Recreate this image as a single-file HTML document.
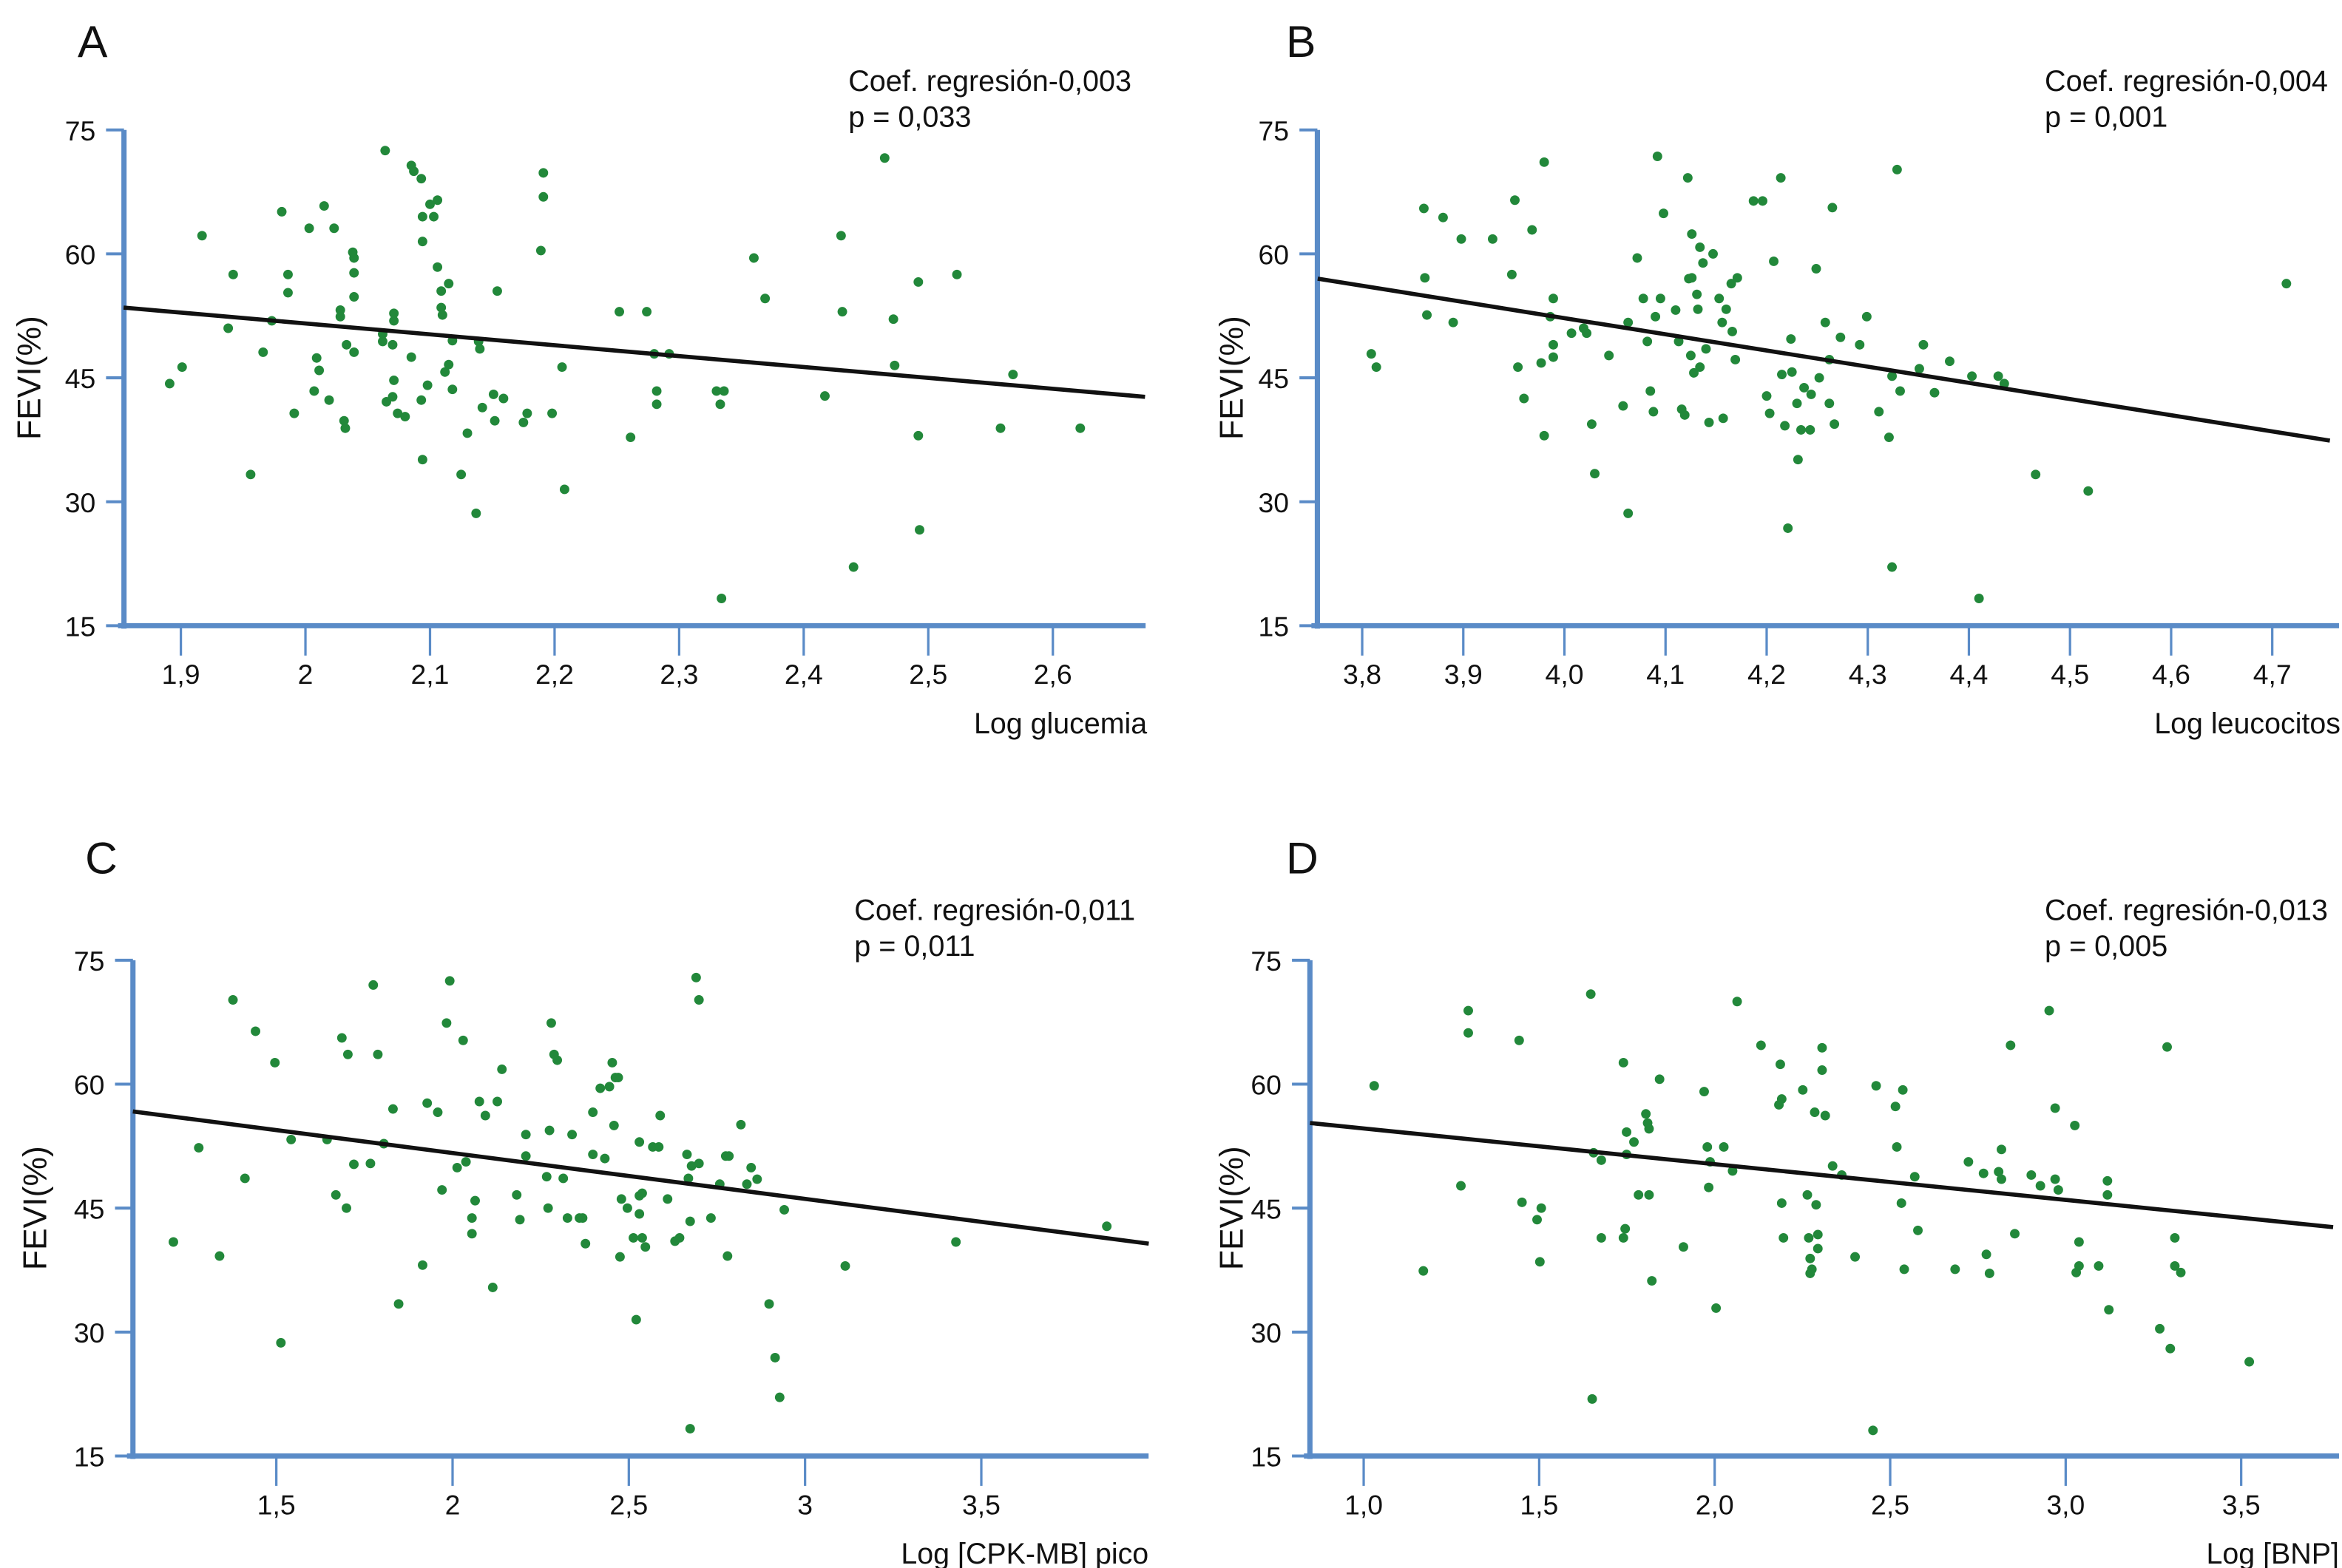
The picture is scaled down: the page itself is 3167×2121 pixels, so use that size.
<!DOCTYPE html>
<html><head><meta charset="utf-8"><style>
html,body{margin:0;padding:0;background:#fff}
svg{display:block}
text{font-family:"Liberation Sans",Arial,sans-serif;fill:#111}
</style></head><body>
<svg id="fig" width="3167" height="2121" viewBox="0 0 1568 1050" preserveAspectRatio="none" xmlns="http://www.w3.org/2000/svg"></svg>
<script>
// Panel A: Log glucemia
const aX=[1.891,1.901,1.917,1.938,1.942,1.956,1.966,1.973,1.981,1.986,1.986,1.991,2.003,2.007,2.009,2.011,2.015,2.019,2.023,2.028,2.028,2.031,2.032,2.033,2.038,2.039,2.039,2.039,2.039,2.062,2.062,2.064,2.065,2.070,2.070,2.071,2.071,2.071,2.074,2.080,2.085,2.085,2.087,2.093,2.093,2.094,2.094,2.094,2.098,2.100,2.103,2.106,2.106,2.109,2.109,2.110,2.112,2.115,2.115,2.118,2.118,2.125,2.130,2.137,2.139,2.140,2.142,2.151,2.152,2.154,2.159,2.175,2.178,2.189,2.191,2.191,2.198,2.206,2.208,2.252,2.261,2.274,2.280,2.282,2.282,2.292,2.330,2.333,2.334,2.336,2.360,2.369,2.417,2.430,2.431,2.440,2.465,2.472,2.473,2.492,2.492,2.493,2.523,2.568,2.558,2.622];
const aY=[44.3,46.3,62.2,51.0,57.5,33.3,48.1,51.9,65.1,57.5,55.3,40.7,63.1,43.4,47.4,45.9,65.8,42.3,63.1,52.4,53.2,39.8,38.9,49.0,60.2,59.5,57.7,54.8,48.1,50.3,49.4,72.5,42.1,42.7,49.0,51.9,52.8,44.7,40.7,40.3,47.5,70.7,70.0,69.1,42.3,35.1,64.5,61.5,44.1,66.0,64.5,66.5,58.4,55.5,53.5,52.6,45.7,56.4,46.6,49.5,43.6,33.3,38.3,28.6,49.4,48.5,41.4,43.0,39.8,55.5,42.5,39.6,40.7,60.4,69.8,66.9,40.7,46.3,31.5,53.0,37.8,53.0,47.9,43.4,41.8,47.9,43.4,41.8,18.3,43.4,59.5,54.6,42.8,62.2,53.0,22.1,71.6,52.1,46.5,56.6,38.0,26.6,57.5,45.4,38.9,38.9];
const aLineX=[1.854,2.674];
const aLineY=[53.5,42.7];
const aTicks=[1.9,2.0,2.1,2.2,2.3,2.4,2.5,2.6];
const aTickLabels=["1,9","2","2,1","2,2","2,3","2,4","2,5","2,6"];
// Panel B: Log leucocitos
const bX=[3.809,3.814,3.861,3.862,3.864,3.880,3.890,3.898,3.929,3.948,3.951,3.954,3.960,3.968,3.977,3.980,3.980,3.986,3.989,3.989,3.989,4.007,4.019,4.022,4.027,4.030,4.044,4.058,4.063,4.063,4.072,4.078,4.082,4.085,4.088,4.090,4.092,4.095,4.098,4.110,4.113,4.116,4.119,4.122,4.123,4.125,4.126,4.126,4.128,4.131,4.132,4.134,4.134,4.137,4.140,4.143,4.147,4.153,4.156,4.157,4.160,4.165,4.166,4.169,4.171,4.187,4.196,4.200,4.203,4.207,4.214,4.215,4.218,4.221,4.224,4.225,4.230,4.231,4.234,4.237,4.243,4.244,4.249,4.252,4.258,4.262,4.262,4.265,4.267,4.273,4.292,4.299,4.311,4.321,4.324,4.324,4.329,4.332,4.351,4.355,4.366,4.381,4.403,4.410,4.429,4.435,4.466,4.518,4.714];
const bY=[47.9,46.3,65.5,57.1,52.6,64.4,51.7,61.8,61.8,57.5,66.5,46.3,42.5,62.9,46.8,38.0,71.1,52.4,54.6,49.0,47.5,50.4,51.0,50.4,39.4,33.4,47.7,41.6,51.7,28.6,59.5,54.6,49.4,43.4,40.9,52.4,71.8,54.6,64.9,53.2,49.4,41.2,40.5,69.2,57.0,47.7,62.4,57.1,45.6,55.1,53.3,60.8,46.3,58.9,48.5,39.6,60.0,54.6,51.7,40.1,53.3,56.4,50.6,47.2,57.1,66.4,66.4,42.8,40.7,59.1,69.2,45.4,39.2,26.8,49.7,45.7,41.9,35.1,38.7,43.8,38.7,43.0,58.2,45.0,51.7,47.2,41.9,65.6,39.4,49.9,49.0,52.4,40.9,37.8,45.2,22.1,70.2,43.4,46.1,49.0,43.2,47.0,45.2,18.3,45.2,44.3,33.3,31.3,56.4];
const bLineX=[3.756,4.757];
const bLineY=[57.0,37.4];
const bTicks=[3.8,3.9,4.0,4.1,4.2,4.3,4.4,4.5,4.6,4.7];
const bTickLabels=["3,8","3,9","4,0","4,1","4,2","4,3","4,4","4,5","4,6","4,7"];
// Panel C: Log [CPK-MB] pico
const cX=[1.208,1.280,1.339,1.377,1.411,1.441,1.496,1.513,1.542,1.644,1.669,1.686,1.703,1.699,1.720,1.767,1.775,1.788,1.805,1.831,1.847,1.915,1.928,1.958,1.970,1.983,1.992,2.013,2.030,2.038,2.055,2.055,2.064,2.076,2.093,2.114,2.127,2.140,2.182,2.191,2.208,2.208,2.267,2.271,2.275,2.280,2.288,2.297,2.314,2.326,2.339,2.360,2.369,2.377,2.398,2.398,2.419,2.432,2.445,2.453,2.458,2.462,2.470,2.475,2.479,2.496,2.513,2.530,2.530,2.530,2.538,2.538,2.547,2.521,2.568,2.585,2.589,2.610,2.631,2.644,2.665,2.669,2.674,2.674,2.678,2.691,2.699,2.699,2.733,2.758,2.775,2.780,2.784,2.818,2.835,2.847,2.864,2.898,2.915,2.928,2.941,3.114,3.428,3.856];
const cY=[40.9,52.3,39.2,70.2,48.6,66.4,62.6,28.7,53.3,53.3,46.6,65.6,63.6,45.0,50.3,50.4,72.0,63.6,52.8,57.0,33.4,38.1,57.7,56.6,47.2,67.4,72.5,49.9,65.3,50.6,43.8,41.9,45.9,57.9,56.2,35.4,57.9,61.8,46.6,43.6,51.3,53.9,48.8,45.0,54.4,67.4,63.6,62.9,48.6,43.8,53.9,43.8,43.8,40.7,56.6,51.5,59.5,51.0,59.7,62.6,55.0,60.8,60.8,39.1,46.1,45.0,41.4,53.0,44.3,46.5,41.4,46.8,40.3,31.5,52.4,52.4,56.2,46.1,41.0,41.4,51.5,48.6,18.3,43.4,50.1,72.9,70.2,50.4,43.8,47.9,51.3,39.2,51.3,55.1,47.9,49.9,48.5,33.4,26.9,22.1,44.8,38.0,40.9,42.8];
const cLineX=[1.093,3.975];
const cLineY=[56.7,40.7];
const cTicks=[1.5,2.0,2.5,3.0,3.5];
const cTickLabels=["1,5","2","2,5","3","3,5"];
// Panel D: Log [BNP]
const dX=[1.030,1.170,1.277,1.298,1.298,1.443,1.451,1.494,1.506,1.502,1.647,1.651,1.655,1.677,1.677,1.740,1.745,1.740,1.749,1.749,1.770,1.783,1.804,1.809,1.813,1.813,1.821,1.843,1.911,1.970,1.979,1.983,1.987,2.004,2.026,2.051,2.064,2.132,2.187,2.183,2.191,2.191,2.196,2.251,2.264,2.268,2.272,2.272,2.277,2.285,2.289,2.294,2.294,2.306,2.306,2.315,2.336,2.362,2.400,2.451,2.460,2.515,2.519,2.532,2.536,2.540,2.570,2.579,2.685,2.723,2.766,2.774,2.783,2.809,2.817,2.817,2.843,2.855,2.902,2.928,2.953,2.970,2.970,2.979,3.026,3.030,3.038,3.038,3.094,3.119,3.119,3.123,3.268,3.289,3.298,3.311,3.311,3.328,3.523];
const dY=[59.8,37.4,47.7,68.9,66.2,65.3,45.7,43.6,45.0,38.5,70.9,21.9,51.7,50.8,41.4,41.4,42.5,62.6,54.2,51.5,53.0,46.6,56.4,55.3,54.6,46.6,36.2,60.6,40.3,59.1,52.4,47.5,50.6,32.9,52.4,49.5,70.0,64.7,62.4,57.5,58.2,45.6,41.4,59.3,46.6,41.4,38.9,37.1,37.6,56.6,45.4,41.8,40.1,61.7,64.4,56.2,50.1,49.0,39.1,18.1,59.8,57.3,52.4,45.6,59.3,37.6,48.8,42.3,37.6,50.6,49.2,39.4,37.1,49.4,52.1,48.5,64.7,41.9,49.0,47.7,68.9,57.1,48.5,47.2,55.0,37.2,38.0,40.9,38.0,48.3,46.6,32.7,30.4,64.5,28.0,41.4,38.0,37.2,26.4];
const dLineX=[0.847,3.762];
const dLineY=[55.3,42.7];
const dTicks=[1.0,1.5,2.0,2.5,3.0,3.5];
const dTickLabels=["1,0","1,5","2,0","2,5","3,0","3,5"];
const yTicks=[15,30,45,60,75];
const yTickLabels=["15","30","45","60","75"];

const NS="http://www.w3.org/2000/svg";
const svg=document.getElementById('fig');
const AX="#5a8bc7";
function mk(tag,attrs,parent){const e=document.createElementNS(NS,tag);for(const k in attrs)e.setAttribute(k,attrs[k]);(parent||svg).appendChild(e);return e;}

const panels=[
 {id:'a',letter:'A',lx:52,ly:38,ax:83,right:767,top:87,bot:419,v0:2.0,p0:204.5,s:834,X:aX,Y:aY,LX:aLineX,LY:aLineY,T:aTicks,TL:aTickLabels,xl:"Log glucemia",xlx:768,xly:491,fx:19,c1:"Coef. regresión-0,003",c2:"p = 0,033",cx:568,cy:61},
 {id:'b',letter:'B',lx:861,ly:38,ax:882,right:1566,top:87,bot:419,v0:3.8,p0:912,s:677,X:bX,Y:bY,LX:bLineX,LY:bLineY,T:bTicks,TL:bTickLabels,xl:"Log leucocitos",xlx:1567,xly:491,fx:824,c1:"Coef. regresión-0,004",c2:"p = 0,001",cx:1369,cy:61},
 {id:'c',letter:'C',lx:57,ly:585,ax:89,right:769,top:643,bot:975,v0:2.0,p0:303,s:236,X:cX,Y:cY,LX:cLineX,LY:cLineY,T:cTicks,TL:cTickLabels,xl:"Log [CPK-MB] pico",xlx:769,xly:1047,fx:23,c1:"Coef. regresión-0,011",c2:"p = 0,011",cx:572,cy:616},
 {id:'d',letter:'D',lx:861,ly:585,ax:877,right:1566,top:643,bot:975,v0:2.0,p0:1148,s:235,X:dX,Y:dY,LX:dLineX,LY:dLineY,T:dTicks,TL:dTickLabels,xl:"Log [BNP]",xlx:1566,xly:1047,fx:824,c1:"Coef. regresión-0,013",c2:"p = 0,005",cx:1369,cy:616}
];

panels.forEach(P=>{
  const g=mk('g',{});
  
  
  const xs=v=>P.p0+(v-P.v0)*P.s;
  const ys=v=>P.bot-(v-15)*(P.bot-P.top)/60;
  const L=mk('text',{x:P.lx,y:P.ly,'font-size':30},g);L.textContent=P.letter;
  
  
  yTicks.forEach((t,i)=>{
    const yy=ys(t);
    const tk=mk('line',{x1:P.ax-12,x2:P.ax,y1:yy,y2:yy,stroke:AX,'stroke-width':2},g);
    
    
    const tl=mk('text',{x:P.ax-19,y:yy+7,'font-size':18.5,'text-anchor':'end'},g);tl.textContent=yTickLabels[i];
    
    
  });
  P.T.forEach((t,i)=>{
    const xx=xs(t);
    const tk=mk('line',{x1:xx,x2:xx,y1:P.bot,y2:P.bot+20,stroke:AX,'stroke-width':1.6},g);
    
    
    const tl=mk('text',{x:xx,y:P.bot+39,'font-size':18.5,'text-anchor':'middle'},g);tl.textContent=P.TL[i];
    
    
  });
  const ya=mk('line',{x1:P.ax,x2:P.ax,y1:P.top,y2:P.bot+2,stroke:AX,'stroke-width':3.5},g);
  
  
  const xa=mk('line',{x1:P.ax-4,x2:P.right,y1:P.bot,y2:P.bot,stroke:AX,'stroke-width':3.5},g);
  
  
  P.X.forEach((v,i)=>{
    const c=mk('circle',{cx:xs(v),cy:ys(P.Y[i]),r:3.2,fill:'#22883a'},g);
    
    
  });
  const rl=mk('line',{x1:xs(P.LX[0]),y1:ys(P.LY[0]),x2:xs(P.LX[1]),y2:ys(P.LY[1]),stroke:'#111','stroke-width':2.8},g);
  
  
  const xl=mk('text',{x:P.xlx,y:P.xly,'font-size':19.5,'text-anchor':'end'},g);xl.textContent=P.xl;
  
  
  const cyy=(P.top+P.bot)/2;
  const yl=mk('text',{x:P.fx,y:cyy,'font-size':22,'text-anchor':'middle',transform:`rotate(-90 ${P.fx} ${cyy})`,dy:8},g);yl.textContent="FEVI(%)";
  
  
  const a1=mk('text',{x:P.cx,y:P.cy,'font-size':19.6},g);a1.textContent=P.c1;
  
  
  const a2=mk('text',{x:P.cx,y:P.cy+24,'font-size':19.6},g);a2.textContent=P.c2;
  
  
});
</script>
</body></html>
